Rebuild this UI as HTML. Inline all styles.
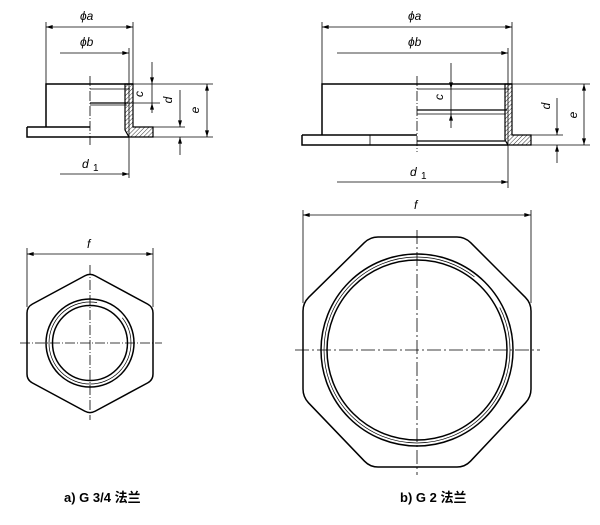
<!DOCTYPE html>
<html><head><meta charset="utf-8"><style>body{margin:0;background:#fff}svg{display:block}</style></head>
<body>
<svg width="600" height="525" viewBox="0 0 600 525" xmlns="http://www.w3.org/2000/svg" font-family="Liberation Sans, sans-serif">
<defs>
<pattern id="h" width="3" height="3" patternUnits="userSpaceOnUse" patternTransform="rotate(45)"><line x1="0" y1="0" x2="0" y2="3" stroke="#000" stroke-width="0.8"/></pattern>
<marker id="a" viewBox="0 0 10 6" refX="10" refY="3" markerWidth="8" markerHeight="4" orient="auto-start-reverse" markerUnits="userSpaceOnUse"><path d="M0,0L10,3L0,6z" fill="#000"/></marker>
</defs>
<g stroke="#000" fill="none" stroke-width="0.8">
<!-- LEFT SIDE VIEW -->
<line x1="46" y1="22" x2="46" y2="84"/><line x1="133" y1="22" x2="133" y2="84"/>
<line x1="46" y1="27" x2="133" y2="27" marker-start="url(#a)" marker-end="url(#a)"/>
<line x1="129" y1="48" x2="129" y2="178"/>
<line x1="60" y1="53" x2="129" y2="53" marker-end="url(#a)"/>
<line x1="60" y1="174" x2="129" y2="174" marker-end="url(#a)"/>
<line x1="90" y1="76" x2="90" y2="145" stroke-dasharray="10,2,1,2"/>
<line x1="133" y1="84" x2="213" y2="84"/><line x1="153" y1="137" x2="213" y2="137"/>
<line x1="128" y1="103" x2="160" y2="103"/><line x1="153" y1="127" x2="185" y2="127"/>
<line x1="152" y1="62" x2="152" y2="84" marker-end="url(#a)"/><line x1="152" y1="113" x2="152" y2="103" marker-end="url(#a)"/><line x1="152" y1="84" x2="152" y2="103"/>
<line x1="180" y1="90" x2="180" y2="127" marker-end="url(#a)"/><line x1="180" y1="155" x2="180" y2="137" marker-end="url(#a)"/>
<line x1="207" y1="84" x2="207" y2="137" marker-start="url(#a)" marker-end="url(#a)"/>
<line x1="90" y1="89" x2="130" y2="89"/><line x1="90" y1="103" x2="128" y2="103" stroke-width="1.3"/><line x1="90" y1="105" x2="127" y2="105"/>
<path d="M125,84 L133,84 L133,127 L153,127 L153,137 L129,137 L125,130 Z" fill="url(#h)" stroke-width="1.2"/>
<path d="M90,84 L46,84 L46,127 M27,127 L90,127 M27,127 L27,137 L90,137 M90,84 L133,84 M90,137 L129,137" stroke-width="1.5"/>
<!-- RIGHT SIDE VIEW -->
<line x1="322" y1="22" x2="322" y2="84"/><line x1="512" y1="22" x2="512" y2="84"/>
<line x1="322" y1="27" x2="512" y2="27" marker-start="url(#a)" marker-end="url(#a)"/>
<line x1="508" y1="48" x2="508" y2="188"/>
<line x1="337" y1="53" x2="508" y2="53" marker-end="url(#a)"/>
<line x1="337" y1="182" x2="508" y2="182" marker-end="url(#a)"/>
<line x1="417" y1="76" x2="417" y2="152" stroke-dasharray="10,2,1,2"/>
<line x1="512" y1="84" x2="590" y2="84"/><line x1="531" y1="145" x2="590" y2="145"/><line x1="531" y1="135" x2="563" y2="135"/>
<line x1="451" y1="63" x2="451" y2="89" marker-end="url(#a)"/><line x1="451" y1="128" x2="451" y2="114" marker-end="url(#a)"/><line x1="451" y1="89" x2="451" y2="114"/>
<line x1="557" y1="98" x2="557" y2="135" marker-end="url(#a)"/><line x1="557" y1="163" x2="557" y2="145" marker-end="url(#a)"/>
<line x1="584" y1="84" x2="584" y2="145" marker-start="url(#a)" marker-end="url(#a)"/>
<line x1="417" y1="89" x2="509" y2="89"/><line x1="417" y1="110" x2="507" y2="110" stroke-width="1.3"/><line x1="417" y1="114" x2="505" y2="114"/>
<line x1="417" y1="141" x2="505" y2="141" stroke-width="1.3"/>
<line x1="370" y1="135" x2="370" y2="145"/>
<path d="M505,84 L512,84 L512,135 L531,135 L531,145 L508,145 L505,140 Z" fill="url(#h)" stroke-width="1.2"/>
<path d="M417,84 L322,84 L322,135 M302,135 L417,135 M302,135 L302,145 L417,145 M417,84 L512,84 M417,145 L508,145" stroke-width="1.5"/>
<!-- LEFT HEX -->
<line x1="27" y1="248" x2="27" y2="307"/><line x1="153" y1="248" x2="153" y2="307"/>
<line x1="27" y1="254" x2="153" y2="254" marker-start="url(#a)" marker-end="url(#a)"/>
<path d="M95.3,275.85 L147.7,304.15 Q153,307 153,313 L153,374 Q153,380 147.7,382.85 L95.3,411.15 Q90,414 84.7,411.15 L32.3,382.85 Q27,380 27,374 L27,313 Q27,307 32.3,304.15 L84.7,275.85 Q90,273 95.3,275.85 Z" stroke-width="1.5"/>
<circle cx="90" cy="343" r="44" stroke-width="1.5"/>
<circle cx="90" cy="343" r="41" stroke-width="0.7" stroke-dasharray="200,30"/>
<circle cx="90" cy="343" r="37.5" stroke-width="1.5"/>
<line x1="20" y1="343" x2="162" y2="343" stroke-dasharray="10,2,1,2"/>
<line x1="90" y1="265" x2="90" y2="420" stroke-dasharray="10,2,1,2"/>
<!-- RIGHT OCT -->
<line x1="303" y1="210" x2="303" y2="303"/><line x1="531" y1="210" x2="531" y2="303"/>
<line x1="303" y1="215" x2="531" y2="215" marker-start="url(#a)" marker-end="url(#a)"/>
<path d="M378,237 L457,237 Q465,237 470.7,242.7 L525.3,297.3 Q531,303 531,311 L531,389 Q531,397 525.5,402.8 L470.5,461.2 Q465,467 457,467 L378,467 Q370,467 364.5,461.2 L308.5,402.8 Q303,397 303,389 L303,311 Q303,303 308.7,297.3 L364.3,242.7 Q370,237 378,237 Z" stroke-width="1.5"/>
<circle cx="417" cy="350" r="96" stroke-width="1.5"/>
<circle cx="417" cy="350" r="93" stroke-width="0.7" stroke-dasharray="500,40"/>
<circle cx="417" cy="350" r="90" stroke-width="1.5"/>
<line x1="295" y1="350" x2="540" y2="350" stroke-dasharray="14,3,2,3"/>
<line x1="417" y1="230" x2="417" y2="475" stroke-dasharray="14,3,2,3"/>
</g>
<g font-style="italic" font-size="12" fill="#000">
<text x="80" y="20">ϕa</text><text x="80" y="46">ϕb</text><text x="82" y="168">d</text><text x="93" y="171" font-size="10" font-style="normal">1</text>
<text x="408" y="20">ϕa</text><text x="408" y="46">ϕb</text><text x="410" y="176">d</text><text x="421" y="179" font-size="10" font-style="normal">1</text>
<text transform="translate(143,94) rotate(-90)" text-anchor="middle">c</text>
<text transform="translate(172,100) rotate(-90)" text-anchor="middle">d</text>
<text transform="translate(199,110) rotate(-90)" text-anchor="middle">e</text>
<text transform="translate(443,97) rotate(-90)" text-anchor="middle">c</text>
<text transform="translate(550,106) rotate(-90)" text-anchor="middle">d</text>
<text transform="translate(577,115) rotate(-90)" text-anchor="middle">e</text>
<text x="87" y="248">f</text><text x="414" y="209">f</text>
</g>
<g font-family="Liberation Sans, Noto Sans CJK SC, sans-serif" font-weight="bold" font-size="13" fill="#000">
<text x="64" y="502">a) G 3/4 法兰</text>
<text x="400" y="502">b) G 2 法兰</text>
</g>
</svg>
</body></html>
